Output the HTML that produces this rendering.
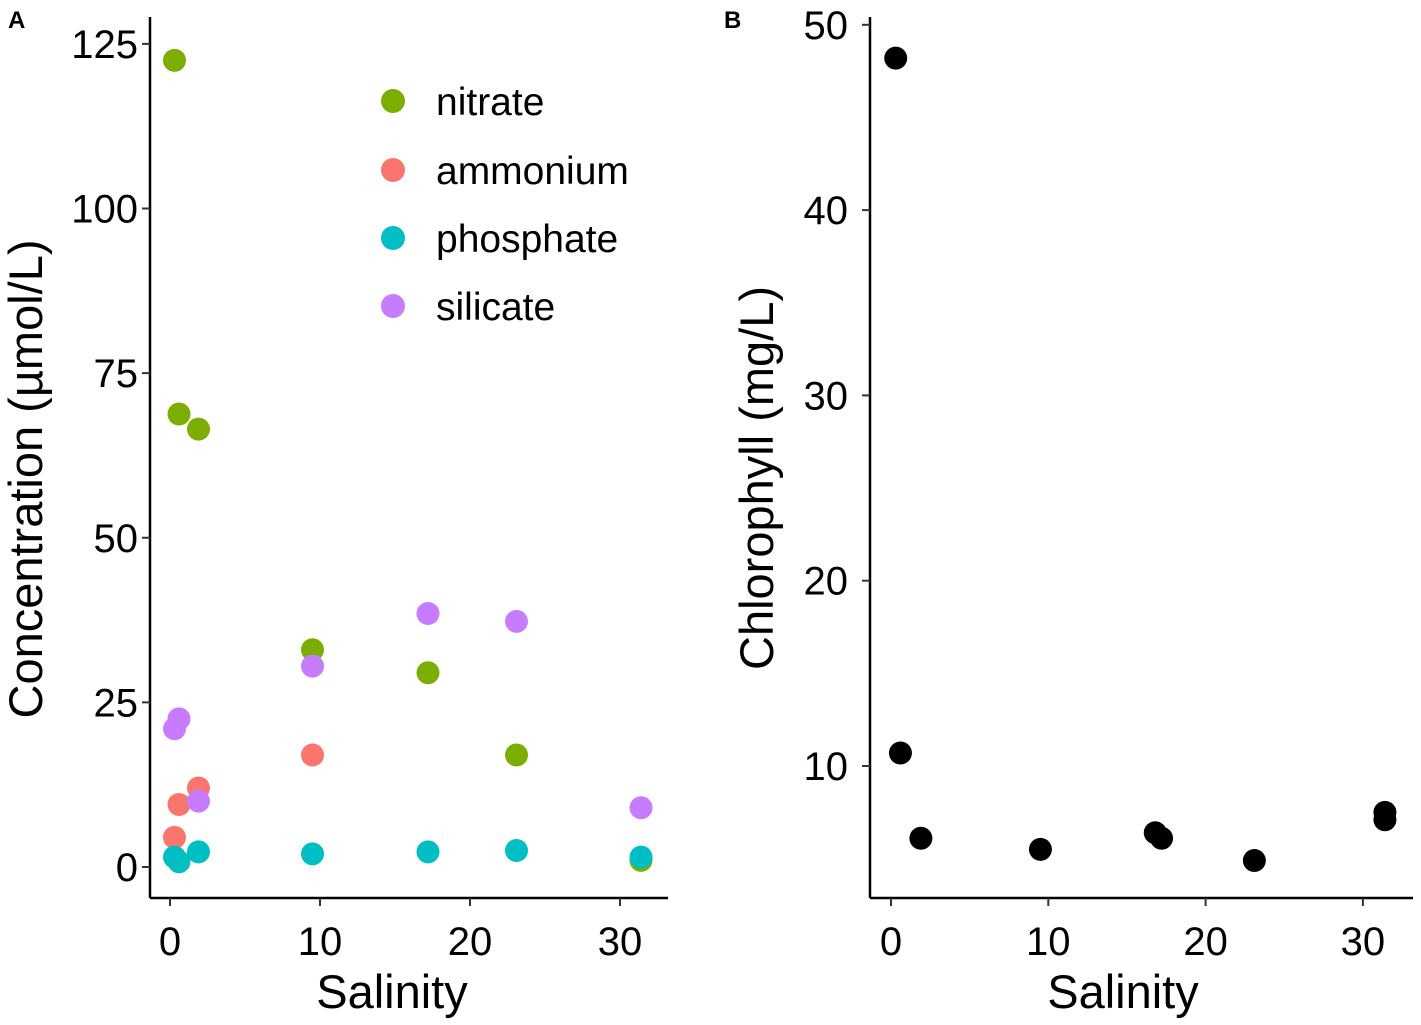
<!DOCTYPE html>
<html><head><meta charset="utf-8"><style>
body{margin:0;background:#fff;}
svg{display:block;font-family:"Liberation Sans",sans-serif;}
</style></head><body>
<svg id="c" width="1421" height="1025" xmlns="http://www.w3.org/2000/svg"></svg>
<script>
const salinityA = [0.3, 0.6, 1.9, 9.5, 17.2, 23.1, 31.4];
const nitrate = [122.5, 68.8, 66.5, 33, 29.5, 17, 1];
const ammoniumSal = [0.3, 0.6, 1.9, 9.5];
const ammonium = [4.5, 9.5, 12, 17];
const phosphate = [1.5, 0.8, 2.3, 2, 2.3, 2.5, 1.5];
const silicate = [21, 22.5, 10, 30.5, 38.5, 37.3, 9];
const salinityB = [0.3, 0.6, 1.9, 9.5, 16.8, 17.2, 23.1, 31.4, 31.4];
const chlorophyll = [48.2, 10.7, 6.1, 5.5, 6.4, 6.1, 4.9, 7.5, 7.1];
const xTicks = [0, 10, 20, 30];
const yTicksA = [0, 25, 50, 75, 100, 125];
const yTicksB = [10, 20, 30, 40, 50];
const seriesNames = ["nitrate", "ammonium", "phosphate", "silicate"];

const NS = "http://www.w3.org/2000/svg";
const svg = document.getElementById("c");
function mk(tag, attrs, parent){const e=document.createElementNS(NS,tag);for(const k in attrs)e.setAttribute(k,attrs[k]);(parent||svg).appendChild(e);return e;}
const xA = v => 170 + v*15;
const yA = v => 867 - v*6.585;
const xB = v => 891 + v*15.73;
const yB = v => 766 - (v-10)*18.53;

function axes(g, x0, x1, yTop, yBot, xs, ys, xf, yf, lblGap){
  let l = mk("line",{x1:x0,y1:yTop,x2:x0,y2:yBot,stroke:"#000","stroke-width":2.5},g);
  
  
  l = mk("line",{x1:x0,y1:yBot,x2:x1,y2:yBot,stroke:"#000","stroke-width":2.5},g);
  
  
  xs.forEach(t=>{
    const x=xf(t);
    mk("line",{x1:x,y1:yBot,x2:x,y2:yBot+8,stroke:"#333","stroke-width":2},g);
    const tx=mk("text",{x:x,y:yBot+57,"text-anchor":"middle","font-size":40,fill:"#000"},g);
    tx.textContent=t;
    
    
  });
  ys.forEach(t=>{
    const y=yf(t);
    mk("line",{x1:x0-8,y1:y,x2:x0,y2:y,stroke:"#333","stroke-width":2},g);
    const tx=mk("text",{x:x0-lblGap,y:y+14,"text-anchor":"end","font-size":40,fill:"#000"},g);
    tx.textContent=t;
    
    
  });
}
function dots(g, xs, ys, xf, yf, color, name){
  xs.forEach((s,i)=>{
    const c=mk("circle",{cx:xf(s),cy:yf(ys[i]),r:11.5,fill:color},g);
    
    
  });
}

// Panel A
const gA = mk("g",{});


axes(gA,150,668,17,898,xTicks,yTicksA,xA,yA,12);
dots(gA,salinityA,nitrate,xA,yA,"#7CAE00","point-nitrate");
dots(gA,ammoniumSal,ammonium,xA,yA,"#F8766D","point-ammonium");
dots(gA,salinityA,silicate,xA,yA,"#C77CFF","point-silicate");
dots(gA,salinityA,phosphate,xA,yA,"#00BFC4","point-phosphate");
let t = mk("text",{x:8,y:28,"font-size":24,"font-weight":"bold"},gA); t.textContent="A";


t = mk("text",{x:392,y:1008,"text-anchor":"middle","font-size":47},gA); t.textContent="Salinity";


t = mk("text",{x:0,y:0,"text-anchor":"middle","font-size":47,transform:"translate(42,479) rotate(-90)"},gA); t.textContent="Concentration (µmol/L)";


const legColors=["#7CAE00","#F8766D","#00BFC4","#C77CFF"];
const legY=[101,170,238,306];
seriesNames.forEach((n,i)=>{
  const g=mk("g",{},gA);
  
  
  mk("circle",{cx:393,cy:legY[i],r:12,fill:legColors[i]},g);
  const tx=mk("text",{x:436,y:legY[i]+14,"font-size":39},g); tx.textContent=n;
});

// Panel B
const gB = mk("g",{});


axes(gB,870,1413,17,898,xTicks,yTicksB,xB,yB,22);
dots(gB,salinityB,chlorophyll,xB,yB,"#000","point-chlorophyll");
t = mk("text",{x:724,y:28,"font-size":24,"font-weight":"bold"},gB); t.textContent="B";


t = mk("text",{x:1123,y:1008,"text-anchor":"middle","font-size":47},gB); t.textContent="Salinity";


t = mk("text",{x:0,y:0,"text-anchor":"middle","font-size":47,transform:"translate(773,478) rotate(-90)"},gB); t.textContent="Chlorophyll (mg/L)";


</script>
</body></html>
